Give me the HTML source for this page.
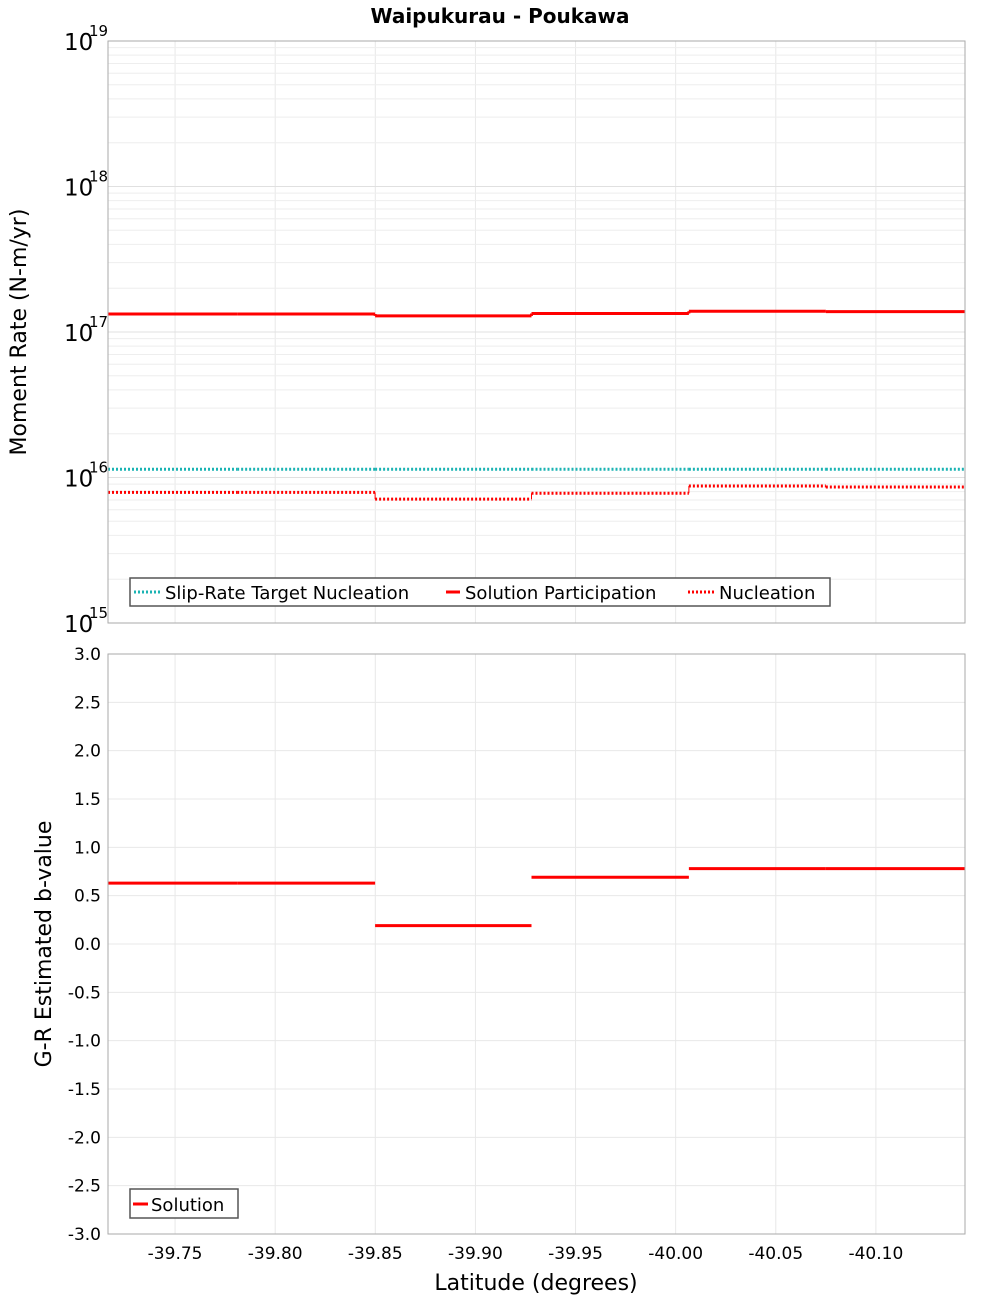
<!DOCTYPE html>
<html><head><meta charset="utf-8"><style>
body{margin:0;background:#fff;}
svg text{font-family:"DejaVu Sans","Liberation Sans",sans-serif;}
</style></head><body>
<svg id="c" width="1000" height="1300" xmlns="http://www.w3.org/2000/svg">
<text x="500" y="23" text-anchor="middle" font-size="20" font-weight="bold">Waipukurau - Poukawa</text>
<g id="gtop"></g><g id="gbot"></g>
</svg>
<script>
const segBounds=[-39.7165,-39.781,-39.8499,-39.928,-40.0066,-40.075,-40.1445];
const participation=[1.33e17,1.33e17,1.29e17,1.34e17,1.39e17,1.38e17];
const targetNucleation=[1.14e16,1.14e16,1.14e16,1.14e16,1.14e16,1.14e16];
const nucleation=[7.9e15,7.9e15,7.1e15,7.8e15,8.75e15,8.6e15];
const bValues=[0.63,0.63,0.19,0.69,0.78,0.78];
const xTicks=[-39.75,-39.80,-39.85,-39.90,-39.95,-40.00,-40.05,-40.10];
const bTicks=[3.0,2.5,2.0,1.5,1.0,0.5,0.0,-0.5,-1.0,-1.5,-2.0,-2.5,-3.0];
const logTicks=[15,16,17,18,19];

const NS="http://www.w3.org/2000/svg";
const L=108,R=965,T1=41,B1=623,T2=654,B2=1234;
const xs=v=>L+(v-segBounds[0])/(segBounds[6]-segBounds[0])*(R-L);
const ys1=v=>B1-(Math.log10(v)-15)/4*(B1-T1);
const ys2=v=>B2-(v+3)/6*(B2-T2);
function mk(p,tag,at,txt){const e=document.createElementNS(NS,tag);for(const k in at)e.setAttribute(k,at[k]);if(txt!==undefined)e.textContent=txt;p.appendChild(e);return e;}
const gTop=document.getElementById('gtop'),gBot=document.getElementById('gbot');

[[gTop,T1,B1],[gBot,T2,B2]].forEach(([g,t,b])=>{
  xTicks.forEach(v=>{const l=mk(g,'line',{x1:xs(v),x2:xs(v),y1:t,y2:b,stroke:'#e8e8e8'});
  
  });
});
for(let d=15;d<19;d++)for(let m=1;m<10;m++){const y=ys1(m*Math.pow(10,d));
  const l=mk(gTop,'line',{x1:L,x2:R,y1:y,y2:y,stroke:m==1?'#e0e0e0':'#eeeeee'});
  
  }
bTicks.forEach(v=>{const y=ys2(v);const l=mk(gBot,'line',{x1:L,x2:R,y1:y,y2:y,stroke:'#e8e8e8'});
  
  
  const t=mk(gBot,'text',{x:101,y:y+6,'text-anchor':'end','font-size':17},v.toFixed(1));
  
  });
logTicks.forEach(d=>{const y=ys1(Math.pow(10,d));
  const t=mk(gTop,'text',{x:64,y:y+9,'font-size':23},'10');
  
  
  const s=mk(gTop,'text',{x:89,y:y-5,'font-size':15},String(d));
  
  });
xTicks.forEach(v=>{const t=mk(gBot,'text',{x:xs(v),y:1259,'text-anchor':'middle','font-size':17},v.toFixed(2));
  
  });

function steps(g,vals,ys,color,dash,name){
  vals.forEach((v,i)=>{const a={x1:xs(segBounds[i]),x2:xs(segBounds[i+1]),y1:ys(v),y2:ys(v),stroke:color,'stroke-width':3};
    if(dash)a['stroke-dasharray']='2,2';
    const l=mk(g,'line',a);
    
    
    if(i>0){const p=vals[i-1];const c=mk(g,'line',{x1:xs(segBounds[i]),x2:xs(segBounds[i]),y1:ys(p),y2:ys(v),stroke:color,'stroke-width':dash?1:3});
      
      }
  });
}
steps(gTop,targetNucleation,ys1,'#1ab3b3',true,'target-nucleation-segment');
steps(gTop,participation,ys1,'#ff0000',false,'participation-segment');
steps(gTop,nucleation,ys1,'#ff0000',true,'nucleation-segment');
bValues.forEach((v,i)=>{const l=mk(gBot,'line',{x1:xs(segBounds[i]),x2:xs(segBounds[i+1]),y1:ys2(v),y2:ys2(v),stroke:'#ff0000','stroke-width':3});
  
  });

[[gTop,T1,B1],[gBot,T2,B2]].forEach(([g,t,b])=>{const r=mk(g,'rect',{x:L,y:t,width:R-L,height:b-t,fill:'none',stroke:'#aaaaaa'});
  
  });

const lg=mk(gTop,'g',{});


mk(lg,'rect',{x:130,y:578,width:700,height:28,fill:'#fff',stroke:'#555','stroke-width':1.5});
mk(lg,'line',{x1:134,x2:160,y1:592,y2:592,stroke:'#1ab3b3','stroke-width':3,'stroke-dasharray':'2,2'});
mk(lg,'text',{x:165,y:599,'font-size':18},'Slip-Rate Target Nucleation');
mk(lg,'line',{x1:446,x2:460,y1:592,y2:592,stroke:'#ff0000','stroke-width':3});
mk(lg,'text',{x:465,y:599,'font-size':18},'Solution Participation');
mk(lg,'line',{x1:688,x2:714,y1:592,y2:592,stroke:'#ff0000','stroke-width':3,'stroke-dasharray':'2,2'});
mk(lg,'text',{x:719,y:599,'font-size':18},'Nucleation');
const lg2=mk(gBot,'g',{});


mk(lg2,'rect',{x:130,y:1189,width:108,height:29,fill:'#fff',stroke:'#555','stroke-width':1.5});
mk(lg2,'line',{x1:133,x2:148,y1:1204,y2:1204,stroke:'#ff0000','stroke-width':3});
mk(lg2,'text',{x:151,y:1211,'font-size':18},'Solution');

const a1=mk(gTop,'text',{x:0,y:0,'font-size':22,'text-anchor':'middle',transform:'translate(26,332) rotate(-90)'},'Moment Rate (N-m/yr)');


const a2=mk(gBot,'text',{x:0,y:0,'font-size':22,'text-anchor':'middle',transform:'translate(51,944) rotate(-90)'},'G-R Estimated b-value');


const a3=mk(gBot,'text',{x:536,y:1290,'font-size':22,'text-anchor':'middle'},'Latitude (degrees)');


</script>
</body></html>
